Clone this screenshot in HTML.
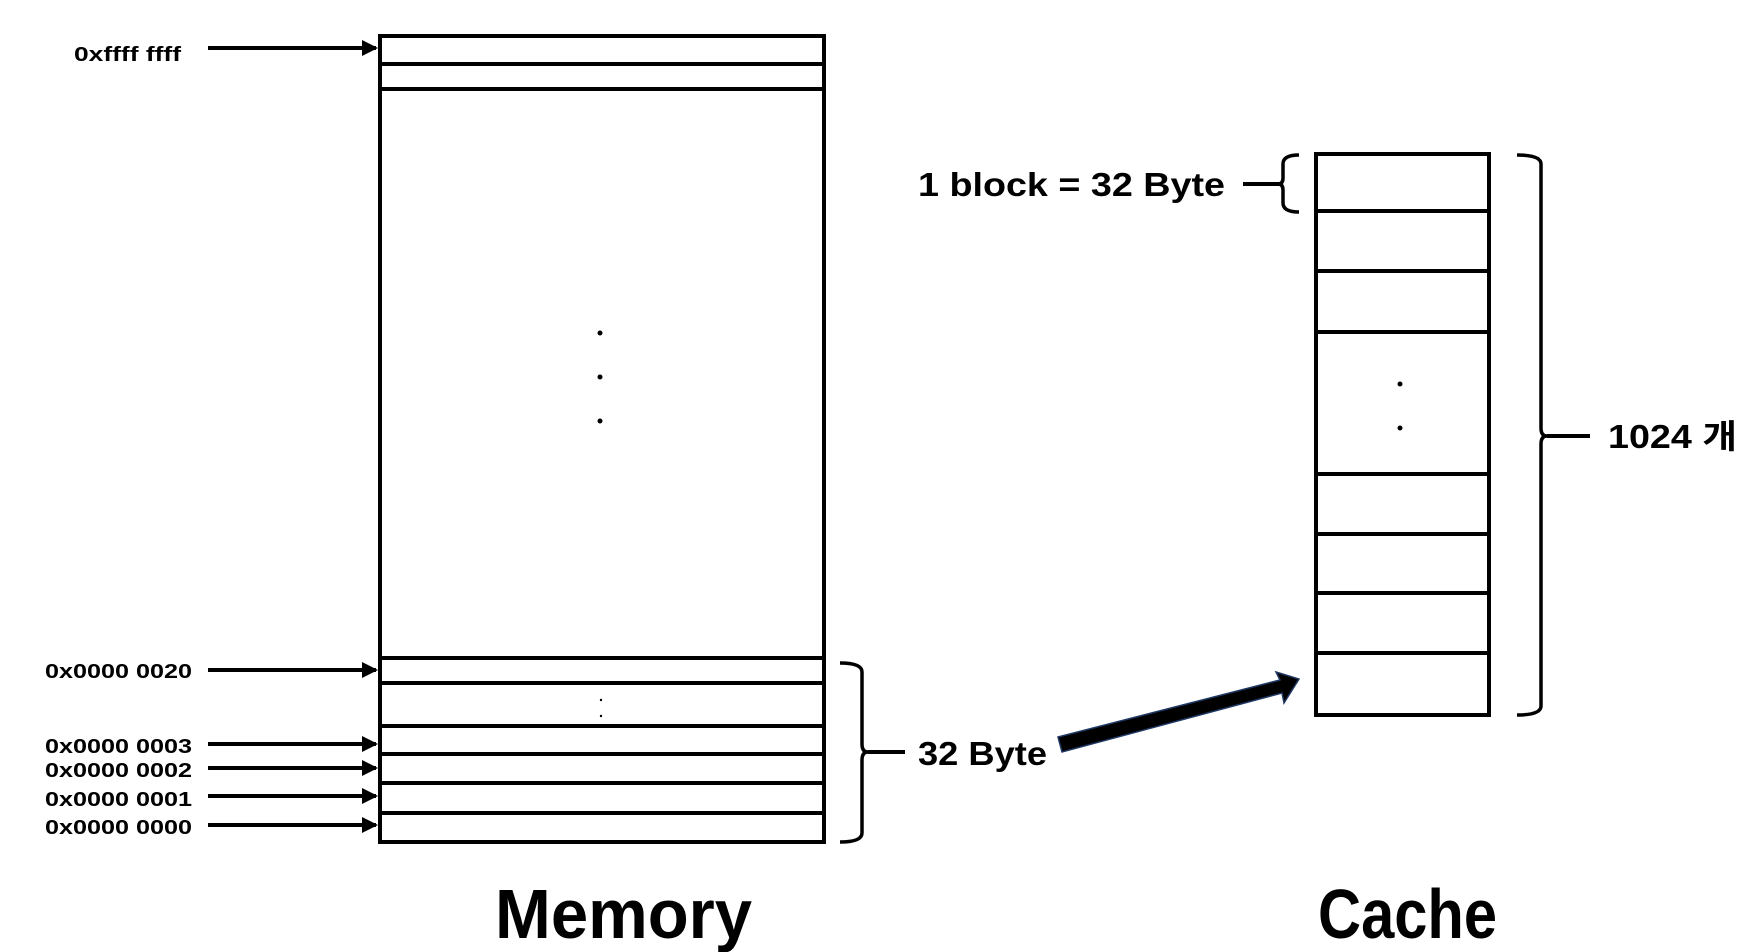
<!DOCTYPE html>
<html><head><meta charset="utf-8"><style>html,body{margin:0;padding:0;background:#fff}svg{display:block}</style></head>
<body>
<svg width="1742" height="952" viewBox="0 0 1742 952" xmlns="http://www.w3.org/2000/svg" font-family="'Liberation Sans','Noto Sans CJK KR',sans-serif" font-weight="bold">
<defs>
<marker id="ah" markerWidth="4" markerHeight="4" refX="3.5" refY="2" orient="auto" markerUnits="strokeWidth"><path d="M0,0 L4,2 L0,4 z" fill="#000"/></marker>
</defs>
<g fill="none" stroke="#000" stroke-width="4">
<rect x="380" y="36" width="444" height="806"/>
<line x1="380" y1="64" x2="824" y2="64"/>
<line x1="380" y1="89" x2="824" y2="89"/>
<line x1="380" y1="658" x2="824" y2="658"/>
<line x1="380" y1="683" x2="824" y2="683"/>
<line x1="380" y1="726" x2="824" y2="726"/>
<line x1="380" y1="754" x2="824" y2="754"/>
<line x1="380" y1="783" x2="824" y2="783"/>
<line x1="380" y1="813" x2="824" y2="813"/>
<rect x="1316" y="154" width="173" height="561"/>
<line x1="1316" y1="211" x2="1489" y2="211"/>
<line x1="1316" y1="271" x2="1489" y2="271"/>
<line x1="1316" y1="332" x2="1489" y2="332"/>
<line x1="1316" y1="474" x2="1489" y2="474"/>
<line x1="1316" y1="534" x2="1489" y2="534"/>
<line x1="1316" y1="593" x2="1489" y2="593"/>
<line x1="1316" y1="653" x2="1489" y2="653"/>
<!-- brackets -->
<path d="M840,663 Q862,663 862,672 L862,744 Q862,752 868,752 Q862,752 862,760 L862,833 Q862,842 840,842" stroke-width="3.5"/>
<line x1="868" y1="752" x2="905" y2="752"/>
<path d="M1517,155 Q1541,155 1541,164 L1541,428 Q1541,436 1547,436 Q1541,436 1541,444 L1541,706 Q1541,715 1517,715" stroke-width="3.5"/>
<line x1="1547" y1="436" x2="1590" y2="436"/>
<path d="M1299,155 Q1283,155 1283,164 L1283,178 Q1283,184 1278,184 Q1283,184 1283,190 L1283,203 Q1283,212 1299,212" stroke-width="3.5"/>
<line x1="1243" y1="184" x2="1279" y2="184"/>
</g>
<g stroke="#000" stroke-width="4" marker-end="url(#ah)">
<line x1="208" y1="48" x2="376" y2="48"/>
<line x1="208" y1="670" x2="376" y2="670"/>
<line x1="208" y1="744" x2="376" y2="744"/>
<line x1="208" y1="768" x2="376" y2="768"/>
<line x1="208" y1="796" x2="376" y2="796"/>
<line x1="208" y1="825" x2="376" y2="825"/>
</g>
<polygon points="1058,737 1280,680 1276,672 1299,679 1284,703 1282,693 1062,752" fill="#000" stroke="#1f3864" stroke-width="1.5"/>
<g fill="#000">
<circle cx="600" cy="333" r="2.5"/><circle cx="600" cy="377" r="2.5"/><circle cx="600" cy="421" r="2.5"/>
<circle cx="601" cy="700" r="1.2"/><circle cx="601" cy="716" r="1.2"/>
<circle cx="1400" cy="384" r="2.5"/><circle cx="1400" cy="428" r="2.5"/>
</g>
<g fill="#000" font-size="20" lengthAdjust="spacingAndGlyphs">
<text x="74" y="61" textLength="107" lengthAdjust="spacingAndGlyphs">0xffff ffff</text>
<text x="45" y="678" textLength="147" lengthAdjust="spacingAndGlyphs">0x0000 0020</text>
<text x="45" y="753" textLength="147" lengthAdjust="spacingAndGlyphs">0x0000 0003</text>
<text x="45" y="777" textLength="147" lengthAdjust="spacingAndGlyphs">0x0000 0002</text>
<text x="45" y="806" textLength="147" lengthAdjust="spacingAndGlyphs">0x0000 0001</text>
<text x="45" y="834" textLength="147" lengthAdjust="spacingAndGlyphs">0x0000 0000</text>
</g>
<g fill="#000" font-size="33">
<text x="918" y="765" textLength="129" lengthAdjust="spacingAndGlyphs">32 Byte</text>
<text x="918" y="196" textLength="307" lengthAdjust="spacingAndGlyphs">1 block = 32 Byte</text>
<text x="1608" y="448" textLength="129" lengthAdjust="spacingAndGlyphs">1024 개</text>
</g>
<g fill="#000" font-size="70">
<text x="495" y="938" textLength="257" lengthAdjust="spacingAndGlyphs">Memory</text>
<text x="1318" y="938" textLength="179" lengthAdjust="spacingAndGlyphs">Cache</text>
</g>
</svg>
</body></html>
